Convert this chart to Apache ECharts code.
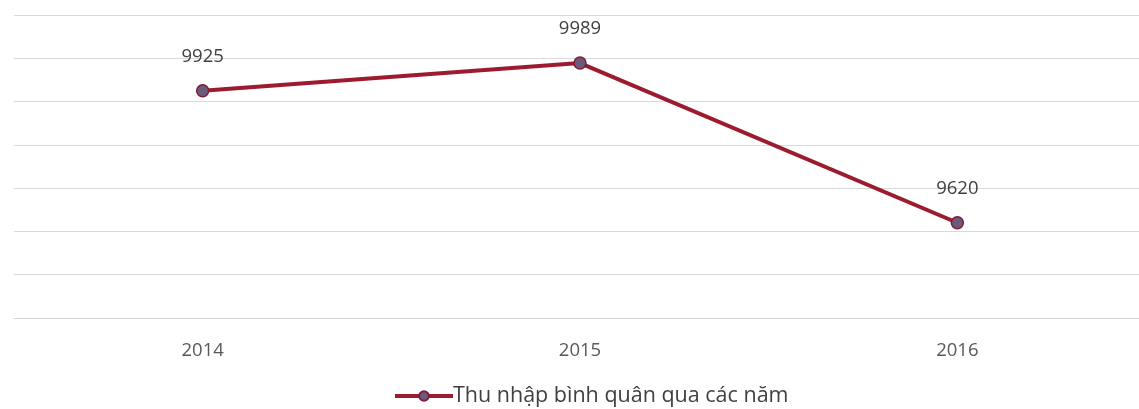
<!DOCTYPE html>
<html>
<head>
<meta charset="utf-8">
<script src="https://cdn.jsdelivr.net/npm/echarts@6/dist/echarts.min.js"></script>
<style>
  html, body { margin: 0; padding: 0; background: #ffffff; overflow: hidden; }
  #chart { width: 1146px; height: 409px; }
</style>
</head>
<body>
<div id="chart"></div>
<script>
// Average income by year
const years = ['2014', '2015', '2016'];
const incomeValues = [9925, 9989, 9620];
const seriesName = 'Thu nhập bình quân qua các năm';

const chart = echarts.init(document.getElementById('chart'));
chart.setOption({
  backgroundColor: '#ffffff',
  animation: false,
  textStyle: { fontFamily: '"Open Sans", Lato, sans-serif' },
  grid: { left: 14, top: 15, right: 0, bottom: 91, containLabel: false },
  xAxis: {
    type: 'category',
    data: years,
    boundaryGap: true,
    axisLine: { lineStyle: { color: '#d4d4d4', width: 1 } },
    axisTick: { show: false },
    axisLabel: { color: '#595959', fontSize: 18.5, margin: 23 }
  },
  yAxis: {
    type: 'value',
    min: 9400,
    max: 10100,
    interval: 100,
    axisLabel: { show: false },
    axisLine: { show: false },
    axisTick: { show: false },
    splitLine: { lineStyle: { color: '#d9d9d9', width: 1 } }
  },
  legend: {
    show: true,
    left: 388,
    top: 380,
    itemWidth: 58,
    itemHeight: 12,
    itemGap: 0,
    lineStyle: { width: 4 },
    textStyle: { color: '#404040', fontSize: 21.5, padding: [0, 0, 0, -5] },
    data: [seriesName]
  },
  series: [{
    name: seriesName,
    type: 'line',
    data: incomeValues,
    symbol: 'circle',
    symbolSize: 12,
    lineStyle: { color: '#9c1b2e', width: 4 },
    itemStyle: { color: '#6c5a7c', borderColor: '#7e1d35', borderWidth: 1.5 },
    label: {
      show: true,
      position: 'top',
      distance: 18,
      color: '#404040',
      fontSize: 18.5
    }
  }]
});
</script>
</body>
</html>
